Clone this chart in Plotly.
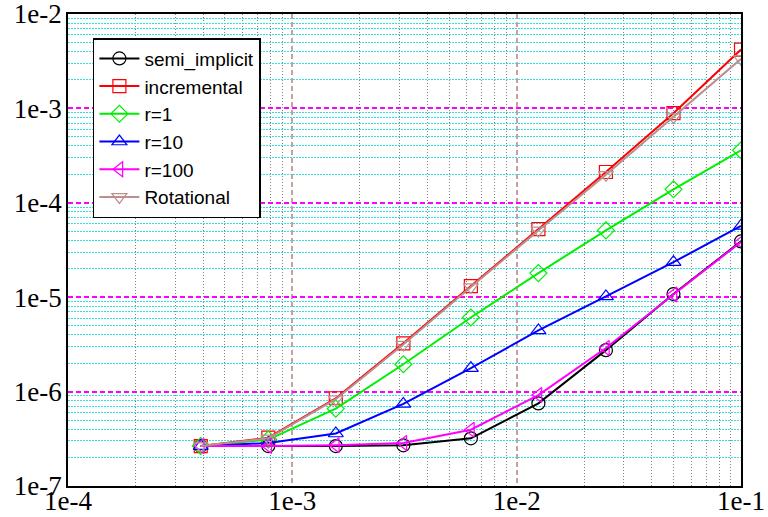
import plotly.graph_objects as go

# mesh size h = 0.1 / 2^k, k = 8..0
h = [0.1 / 2 ** k for k in range(8, -1, -1)]

semi_implicit = [2.65e-7, 2.65e-7, 2.65e-7, 2.7e-7, 3.2e-7, 7.5e-7, 2.75e-6, 1.08e-5, 3.9e-5]
incremental = [2.65e-7, 3.25e-7, 8.5e-7, 3.25e-6, 1.31e-5, 5.25e-5, 2.12e-4, 8.9e-4, 4.2e-3]
r1 = [2.65e-7, 3.1e-7, 6.6e-7, 1.95e-6, 6.1e-6, 1.8e-5, 5.1e-5, 1.39e-4, 3.6e-4]
r10 = [2.65e-7, 2.85e-7, 3.6e-7, 7.4e-7, 1.77e-6, 4.45e-6, 1.02e-5, 2.35e-5, 5.7e-5]
r100 = [2.65e-7, 2.65e-7, 2.7e-7, 2.85e-7, 3.95e-7, 9.2e-7, 2.9e-6, 1.07e-5, 3.85e-5]
rotational = [2.65e-7, 3.2e-7, 8.3e-7, 3.15e-6, 1.28e-5, 5.1e-5, 1.98e-4, 8.1e-4, 3.35e-3]

series = [
    ("semi_implicit", semi_implicit, "#000000", "circle-open"),
    ("incremental", incremental, "#ff0000", "square-open"),
    ("r=1", r1, "#00ee00", "diamond-open"),
    ("r=10", r10, "#0000ff", "triangle-up-open"),
    ("r=100", r100, "#ff00ff", "triangle-left-open"),
    ("Rotational", rotational, "#bc8f8f", "triangle-down-open"),
]

x_ticks = [1e-4, 1e-3, 1e-2, 1e-1]
x_labels = ["1e-4", "1e-3", "1e-2", "1e-1"]
y_ticks = [1e-7, 1e-6, 1e-5, 1e-4, 1e-3, 1e-2]
y_labels = ["1e-7", "1e-6", "1e-5", "1e-4", "1e-3", "1e-2"]

fig = go.Figure()
for name, ys, color, sym in series:
    fig.add_trace(go.Scatter(
        x=h, y=ys, name=name, mode="lines+markers",
        line=dict(color=color, width=2),
        marker=dict(symbol=sym, size=13, color=color, line=dict(width=1.2, color=color)),
    ))

def minor_vals(lo, hi):
    vals = []
    for e in range(lo, hi):
        for m in range(2, 10):
            vals.append(m * 10.0 ** e)
    return vals

serif = "Liberation Serif, Times New Roman, serif"
tick_font = dict(family=serif, size=27, color="black")

common = dict(
    type="log", tickmode="array", tickfont=tick_font,
    ticks="", ticklen=0, automargin=False, ticklabeloverflow="allow",
    showline=True, linecolor="black", linewidth=1.5, mirror=True,
    showgrid=True, gridwidth=1.5, griddash="5px,3px", zeroline=False,
)

fig.update_layout(
    xaxis=dict(
        range=[-4, -1], tickvals=x_ticks, ticktext=x_labels,
        gridcolor="#c8a0a0", ticklabelstandoff=-10,
        minor=dict(tickmode="array", tickvals=minor_vals(-4, -1), showgrid=True,
                   gridcolor="#808080", griddash="1px,2px", gridwidth=1, ticks=""),
        **common,
    ),
    yaxis=dict(
        range=[-7, -2], tickvals=y_ticks, ticktext=y_labels,
        gridcolor="#ff00ff", ticklabelstandoff=-1,
        minor=dict(tickmode="array", tickvals=minor_vals(-7, -2), showgrid=True,
                   gridcolor="#33e0e0", griddash="2px,1px", gridwidth=1, ticks=""),
        **common,
    ),
    width=768, height=517,
    margin=dict(l=68, r=27, t=14, b=31),
    paper_bgcolor="white", plot_bgcolor="white",
    font=dict(family=serif, size=27, color="black"),
    legend=dict(
        x=0.037, y=0.949, xanchor="left", yanchor="top",
        bgcolor="white", bordercolor="black", borderwidth=1.5,
        font=dict(family="Liberation Sans", size=19, color="black"),
        tracegroupgap=0, itemwidth=40,
    ),
)

fig.write_html("out.html")
